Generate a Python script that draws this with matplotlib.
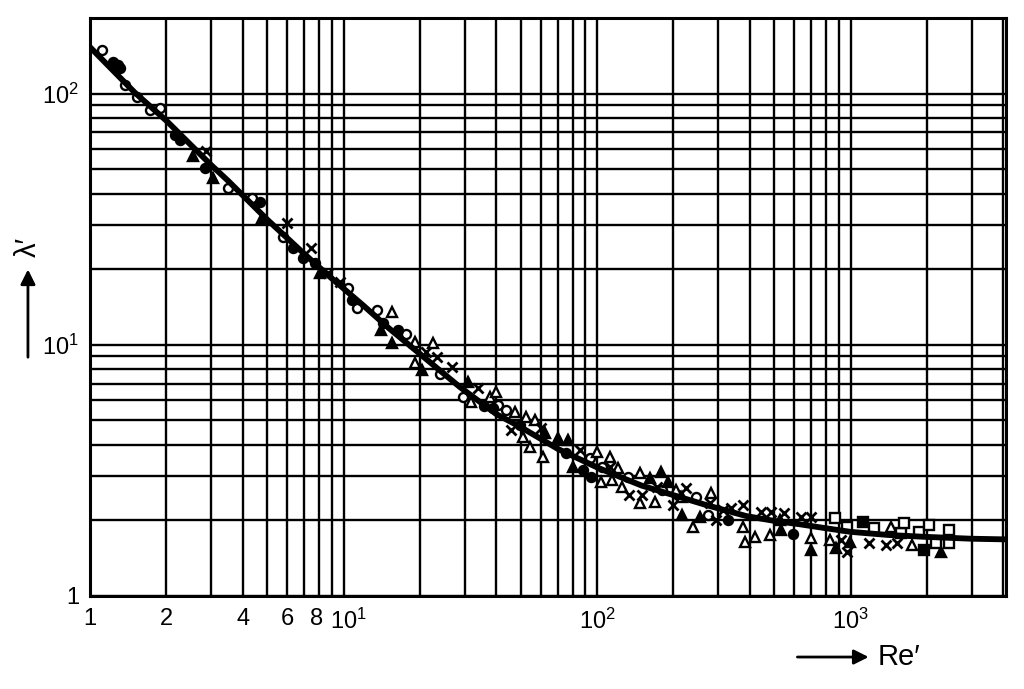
import matplotlib
matplotlib.use("Agg")
import matplotlib.pyplot as plt
from matplotlib.ticker import LogLocator, NullFormatter
from matplotlib.transforms import ScaledTranslation

plt.rcParams['font.family'] = ['Liberation Sans', 'DejaVu Sans']
plt.rcParams['mathtext.fontset'] = 'custom'
plt.rcParams['mathtext.rm'] = 'Liberation Sans'
plt.rcParams['mathtext.it'] = 'Liberation Sans:italic'

# fitted curve
curve_re = [1, 1.5, 2, 3, 3.5, 5, 7, 8.8, 12, 15, 20, 28.7, 40, 50, 70, 100,
            123, 150, 200, 270, 388, 500, 629, 800, 1000, 1400, 1955, 3000, 4100]
curve_lam = [153, 101, 78, 52, 45, 31.5, 23, 18.7, 14.3, 11.7, 9.2, 6.8, 5.3,
             4.7, 3.85, 3.25, 2.98, 2.75, 2.52, 2.3, 2.08, 1.99, 1.93, 1.86,
             1.8, 1.75, 1.72, 1.69, 1.68]

# measured points by symbol
circ_re = [1.11, 1.37, 1.53, 1.72, 1.89, 3.50, 4.34, 5.77, 10.4, 11.3, 13.5,
           17.7, 24.0, 29.5, 40.6, 43.9, 93.5, 105, 132, 181, 246, 273]
circ_lam = [149, 108, 97.2, 86.0, 87.7, 42.1, 38.4, 26.9, 16.8, 14.0, 13.8,
            11.0, 7.65, 6.20, 5.76, 5.50, 3.54, 3.26, 2.98, 2.64, 2.48, 2.10]

dot_re = [1.23, 1.29, 1.31, 2.16, 2.26, 2.84, 4.68, 6.31, 6.91, 7.71, 10.8,
          14.3, 16.4, 35.7, 38.8, 49.5, 75.7, 87.7, 95.0, 208, 327, 590]
dot_lam = [134, 130, 126, 68.4, 65.3, 50.6, 37.0, 24.3, 22.2, 21.2, 15.1,
           12.2, 11.5, 5.71, 5.60, 4.80, 3.71, 3.17, 2.98, 2.52, 2.01, 1.77]

tri_re = [15.5, 19.1, 22.5, 19.1, 31.9, 37.7, 40.1, 47.3, 52.6, 56.8, 50.9,
          54.2, 61.0, 100, 112, 121, 115, 104, 125, 147, 147, 169, 205, 217,
          282, 238, 375, 382, 418, 479, 700, 826, 1445, 1754]
tri_lam = [13.5, 10.3, 10.2, 8.46, 5.92, 6.20, 6.49, 5.40, 5.16, 5.02, 4.30,
           3.92, 3.58, 3.74, 3.58, 3.23, 2.90, 2.85, 2.72, 3.09, 2.35, 2.37,
           2.64, 2.48, 2.57, 1.88, 1.88, 1.64, 1.72, 1.75, 1.70, 1.67, 1.88,
           1.60]

ftri_re = [2.55, 3.05, 4.75, 8.07, 14.1, 15.5, 20.4, 30.9, 62.2, 69.9, 76.6,
           80.1, 161, 179, 190, 217, 254, 525, 533, 700, 877, 990, 2277]
ftri_lam = [56.4, 46.1, 32.0, 19.3, 11.5, 10.2, 7.94, 7.11, 4.46, 4.26, 4.18,
            3.26, 2.95, 3.12, 2.84, 2.10, 2.06, 2.01, 1.83, 1.52, 1.55, 1.64,
            1.50]

cross_re = [2.87, 5.96, 7.43, 8.67, 9.67, 21.2, 23.3, 26.7, 33.8, 45.9, 60.3,
            85.4, 112, 134, 150, 173, 225, 199, 278, 295, 313, 338, 375, 444,
            486, 544, 639, 700, 918, 972, 1187, 1381, 1530]
cross_lam = [59.1, 30.5, 24.3, 19.3, 17.8, 9.39, 8.97, 8.16, 6.73, 4.58, 4.66,
             3.81, 3.26, 2.52, 2.52, 2.72, 2.69, 2.30, 2.35, 2.01, 2.20, 2.24,
             2.30, 2.16, 2.16, 2.14, 2.07, 2.07, 1.67, 1.50, 1.63, 1.60, 1.63]

sq_re = [864, 972, 1242, 1583, 1631, 1869, 2046, 2175, 2454, 2454]
sq_lam = [2.04, 1.88, 1.87, 1.78, 1.95, 1.80, 1.92, 1.63, 1.83, 1.63]

fsq_re = [1114, 1955]
fsq_lam = [1.97, 1.52]

xt = [1, 2, 4, 6, 8, 10, 100, 1000]
xl = ['1', '2', '4', '6', '8', '$10^1$', '$10^2$', '$10^3$']
yt = [1, 10, 100]
yl = ['1', '$10^1$', '$10^2$']

fig = plt.figure(figsize=(10.24, 6.89), dpi=100)
ax = fig.add_axes([0.0879, 0.135, 0.8945, 0.839])

ms = 6.5
mew = 1.7
ax.plot(circ_re, circ_lam, 'o', ms=ms, mfc='white', mec='black', mew=mew, zorder=3)
ax.plot(dot_re, dot_lam, 'o', ms=ms, mfc='black', mec='black', mew=mew, zorder=3)
ax.plot(tri_re, tri_lam, '^', ms=ms + 1, mfc='white', mec='black', mew=mew, zorder=3)
ax.plot(ftri_re, ftri_lam, '^', ms=ms + 1, mfc='black', mec='black', mew=mew, zorder=3)
ax.plot(cross_re, cross_lam, 'x', ms=ms, mec='black', mew=2, zorder=3)
ax.plot(sq_re, sq_lam, 's', ms=ms, mfc='white', mec='black', mew=mew, zorder=3)
ax.plot(fsq_re, fsq_lam, 's', ms=ms, mfc='black', mec='black', mew=mew, zorder=3)
ax.plot(curve_re, curve_lam, '-', color='black', lw=4.2, solid_capstyle='butt', zorder=4)

ax.set_xscale('log')
ax.set_yscale('log')
ax.set_xlim(1, 4100)
ax.set_ylim(1, 200)

ax.set_xticks(xt)
ax.set_xticklabels(xl)
ax.set_yticks(yt)
ax.set_yticklabels(yl)
ax.xaxis.set_minor_locator(LogLocator(base=10, subs=range(2, 10), numticks=20))
ax.yaxis.set_minor_locator(LogLocator(base=10, subs=range(2, 10), numticks=20))
ax.xaxis.set_minor_formatter(NullFormatter())
ax.yaxis.set_minor_formatter(NullFormatter())
ax.tick_params(which='both', length=0, labelsize=17, colors='black')
ax.tick_params(axis='x', pad=9)
ax.tick_params(axis='y', pad=8)

# nudge the crowded "10^1" label a little to the right
lab = ax.get_xticklabels()[5]
lab.set_transform(lab.get_transform() + ScaledTranslation(5 / 100, 0, fig.dpi_scale_trans))
lab8 = ax.get_xticklabels()[4]
lab8.set_transform(lab8.get_transform() + ScaledTranslation(-2 / 100, 0, fig.dpi_scale_trans))

ax.grid(True, which='both', color='black', lw=1.7)
for s in ax.spines.values():
    s.set_linewidth(2.2)
    s.set_color('black')

# axis captions with arrows
fig.add_artist(matplotlib.patches.FancyArrowPatch(
    (0.776, 0.0464), (0.851, 0.0464), transform=fig.transFigure,
    arrowstyle='-|>', mutation_scale=22, lw=2, color='black'))
fig.text(0.857, 0.0464, 'Re\u2032', fontsize=21, va='center', ha='left')
fig.add_artist(matplotlib.patches.FancyArrowPatch(
    (0.0273, 0.4775), (0.0273, 0.613), transform=fig.transFigure,
    arrowstyle='-|>', mutation_scale=22, lw=2, color='black'))
fig.text(0.0273, 0.642, '\u03bb\u2032', fontsize=21, rotation=90,
         va='center', ha='center')

fig.savefig('out.png', dpi=100)
